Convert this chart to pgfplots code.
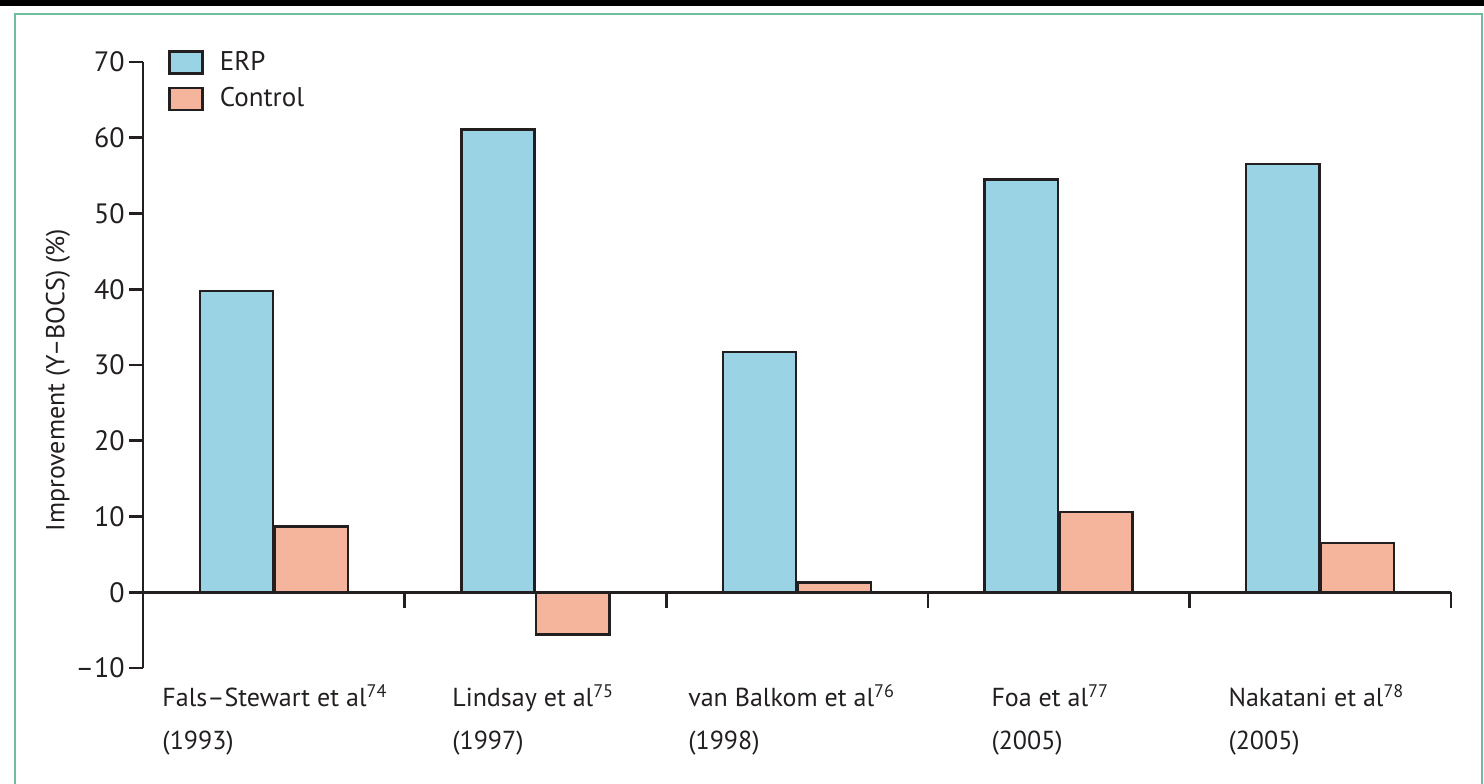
\documentclass[border=0pt]{standalone}
\usepackage{pgfplots}
\pgfplotsset{compat=1.18}
\usepackage{fontspec}
\setmainfont{PT Sans}
\definecolor{erpcol}{HTML}{9AD3E3}
\definecolor{ctrlcol}{HTML}{F5B59D}
\definecolor{ink}{HTML}{231F20}
\definecolor{framecol}{HTML}{72BC9E}
\begin{document}
\fontsize{13pt}{15pt}\selectfont
\begin{tikzpicture}
\useasboundingbox (0,0) rectangle (742pt,391.5pt);
\fill[black] (0,388.5pt) rectangle (742pt,391.5pt);
\draw[framecol, line width=1pt] (7.5pt,-2pt) -- (7.5pt,384.25pt) -- (741pt,384.25pt) -- (741pt,-2pt);
\begin{axis}[
  at={(71.5pt,57.5pt)}, anchor=south west,
  scale only axis, width=654pt, height=303pt,
  xmin=-0.5, xmax=4.5, ymin=-10, ymax=70,
  axis x line=none, axis y line*=left,
  ytick={-10,0,10,20,30,40,50,60,70},
  yticklabels={–10,0,10,20,30,40,50,60,70},
  tick align=outside, major tick length=7pt,
  y axis line style={line width=1.3pt, color=ink},
  ytick style={line width=1.3pt, color=ink},
  yticklabel style={font=\fontsize{14pt}{16pt}\selectfont, color=ink, inner sep=2pt},
  ylabel={Improvement (Y–BOCS) (\%)},
  ylabel style={at={(axis description cs:-0.065,0.475)}, anchor=center, font=\fontsize{13pt}{15pt}\selectfont, color=ink},
  clip=false,
  ybar, bar width=0.28,
  legend style={at={(axis cs:-0.405,72)}, anchor=north west, draw=none, fill=none,
    font=\fontsize{13.5pt}{16pt}\selectfont, text=ink, row sep=2.5pt, column sep=6pt, inner sep=0pt, legend cell align=left},
  legend image code/.code={\draw[#1, line width=1.3pt] (0pt,-5.5pt) rectangle (16.5pt,5.5pt);},
]
\addplot[draw=ink, fill=erpcol, line width=1.2pt, bar shift=-0.143] coordinates {(0,39.8) (1,61.1) (2,31.7) (3,54.5) (4,56.5)};
\addplot[draw=ink, fill=ctrlcol, line width=1.2pt, bar shift=0.143] coordinates {(0,8.7) (1,-5.6) (2,1.3) (3,10.6) (4,6.5)};
\legend{ERP, Control}
\draw[ink, line width=1.3pt] (axis cs:-0.5,0) -- (axis cs:4.5,0);
\pgfplotsinvokeforeach{0.5,1.5,2.5,3.5,4.5}{\draw[ink, line width=1.3pt] (axis cs:#1,0) -- ++(0pt,-8pt);}
\node[anchor=base west, inner sep=0pt, text=ink] at (axis cs:-0.427,-15.05) {Fals–Stewart et al\textsuperscript{74}};
\node[anchor=base west, inner sep=0pt, text=ink] at (axis cs:-0.427,-20.8) {(1993)};
\node[anchor=base west, inner sep=0pt, text=ink] at (axis cs:0.681,-15.05) {Lindsay et al\textsuperscript{75}};
\node[anchor=base west, inner sep=0pt, text=ink] at (axis cs:0.681,-20.8) {(1997)};
\node[anchor=base west, inner sep=0pt, text=ink] at (axis cs:1.583,-15.05) {van Balkom et al\textsuperscript{76}};
\node[anchor=base west, inner sep=0pt, text=ink] at (axis cs:1.583,-20.8) {(1998)};
\node[anchor=base west, inner sep=0pt, text=ink] at (axis cs:2.742,-15.05) {Foa et al\textsuperscript{77}};
\node[anchor=base west, inner sep=0pt, text=ink] at (axis cs:2.742,-20.8) {(2005)};
\node[anchor=base west, inner sep=0pt, text=ink] at (axis cs:3.648,-15.05) {Nakatani et al\textsuperscript{78}};
\node[anchor=base west, inner sep=0pt, text=ink] at (axis cs:3.648,-20.8) {(2005)};
\end{axis}
\end{tikzpicture}
\end{document}
